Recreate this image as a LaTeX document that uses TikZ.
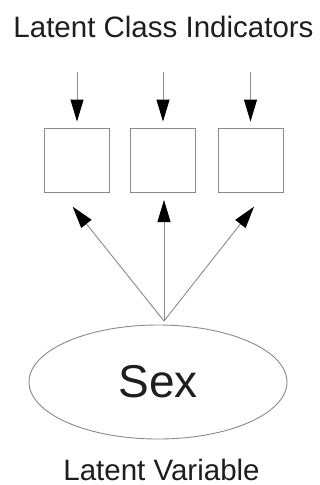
\documentclass[tikz,border=0pt]{standalone}
\usepackage{fontspec}
\setmainfont{Liberation Sans}
\usetikzlibrary{arrows.meta,shapes.geometric}
\definecolor{linegray}{HTML}{8A8A8A}
\definecolor{txt}{HTML}{1E1E1E}
\begin{document}
\begin{tikzpicture}[x=1pt,y=-1pt,
  lbl/.style={anchor=base,text=txt,inner sep=0pt,font=\fontsize{29.5}{34}\selectfont},
  indbox/.style={draw=linegray,line width=0.9pt,minimum width=65pt,minimum height=64pt,inner sep=0pt},
  conn/.style={draw=linegray,line width=0.9pt,-{Triangle[length=22pt,width=13pt,color=black]}}
]
\useasboundingbox (0,0) rectangle (320,485);
\fill[white] (0,0) rectangle (320,485);
\node[lbl] (title) at (163.5,37) {Latent Class Indicators};
\node[lbl] (latlbl) at (161.5,480) {Latent Variable};
\node[indbox] (b1) at (77,160) {};
\node[indbox] (b2) at (163,160) {};
\node[indbox] (b3) at (250.5,160) {};
\node[ellipse,draw=linegray,line width=0.9pt,minimum width=258pt,minimum height=114pt,inner sep=0pt,text=txt,font=\fontsize{46}{50}\selectfont] (sex) at (158,382) {Sex};
\coordinate (s1) at (77,72);
\coordinate (s2) at (163,72);
\coordinate (s3) at (250.5,72);
\coordinate (o) at (164,321);
\coordinate (t1) at (72.7,206.7);
\coordinate (t2) at (164,200);
\coordinate (t3) at (254,206.7);
\draw[conn,shorten >=6pt] (s1) -- (b1.north);
\draw[conn,shorten >=6pt] (s2) -- (b2.north);
\draw[conn,shorten >=6pt] (s3) -- (b3.north);
\draw[conn] (o) -- (t1);
\draw[conn] (o) -- (t2);
\draw[conn] (o) -- (t3);
\end{tikzpicture}
\end{document}
